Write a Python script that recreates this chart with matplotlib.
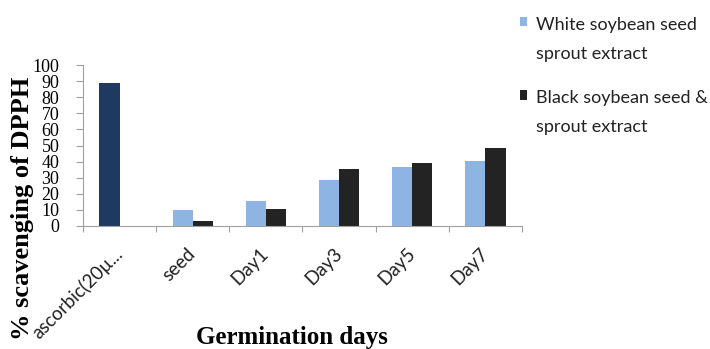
import matplotlib
matplotlib.use("Agg")
import matplotlib.pyplot as plt
from matplotlib.patches import Patch
import numpy as np

categories = ["ascorbic(20µ...", "seed", "Day1", "Day3", "Day5", "Day7"]
white_vals = [89, 10, 15.5, 28.5, 36.6, 40.4]
black_vals = [0, 3, 10.3, 35.6, 38.9, 48.3]
series_labels = ["White soybean seed\nsprout extract", "Black soybean seed &\nsprout extract"]
yticks = list(range(0, 101, 10))

c_white = "#8EB4E3"
c_black = "#232323"
c_asc = "#1F3A60"

fig = plt.figure(figsize=(7.10, 3.49), dpi=100)
W, H = 710, 349
x0, x1, y0, y1 = 83, 522, 226, 65
ax = fig.add_axes([x0 / W, 1 - y0 / H, (x1 - x0) / W, (y0 - y1) / H])

x = np.arange(len(categories))
bw = 0.275
wcolors = [c_asc] + [c_white] * (len(categories) - 1)
b1 = ax.bar(x - bw / 2, white_vals, bw, color=wcolors, zorder=2)
b2 = ax.bar(x + bw / 2, black_vals, bw, color=c_black, zorder=2)

ax.set_xlim(-0.5, len(categories) - 0.5)
ax.set_ylim(0, 100)

for s in ["top", "right"]:
    ax.spines[s].set_visible(False)
for s in ["left", "bottom"]:
    ax.spines[s].set_color("#a0a0a0")
    ax.spines[s].set_linewidth(0.8)

ax.set_yticks(yticks)
ax.set_yticklabels([str(v) for v in yticks], family="Liberation Serif", fontsize=13)
ax.tick_params(axis="y", direction="out", length=5, color="#a0a0a0", pad=12)

ax.set_xticks(np.arange(len(categories) + 1) - 0.5)
ax.set_xticklabels([])
ax.tick_params(axis="x", which="major", direction="out", length=4, color="#a0a0a0")
ax.set_xticks(x, minor=True)
ax.set_xticklabels(categories, minor=True, rotation=45, ha="right", va="center",
                   rotation_mode="anchor", family="Lato", fontsize=13.5, color="#222222")
ax.tick_params(axis="x", which="minor", length=0, pad=18)

ax.set_xlabel("Germination days", family="Liberation Serif", fontweight="bold", fontsize=18)
ax.xaxis.set_label_coords(0.476, -0.62)
ax.set_ylabel("% scavenging of DPPH", family="Liberation Serif", fontweight="bold", fontsize=19)
ax.yaxis.set_label_coords(-0.112, 0.112)

handles = [Patch(facecolor=c_white), Patch(facecolor=c_black)]
leg = fig.legend(handles, series_labels, loc="upper left", bbox_to_anchor=(504 / W, 1 - 1 / H),
                 frameon=False, prop={"family": "Lato", "size": 13},
                 handlelength=0.4, handleheight=0.4, handletextpad=0.45, labelspacing=1.6)
for t in leg.get_texts():
    t.set_linespacing(1.95)
    t.set_color("#222222")
for col in leg._legend_handle_box.get_children():
    for hp in col.get_children():
        hp.align = "top"

fig.savefig("out.png", dpi=100)
